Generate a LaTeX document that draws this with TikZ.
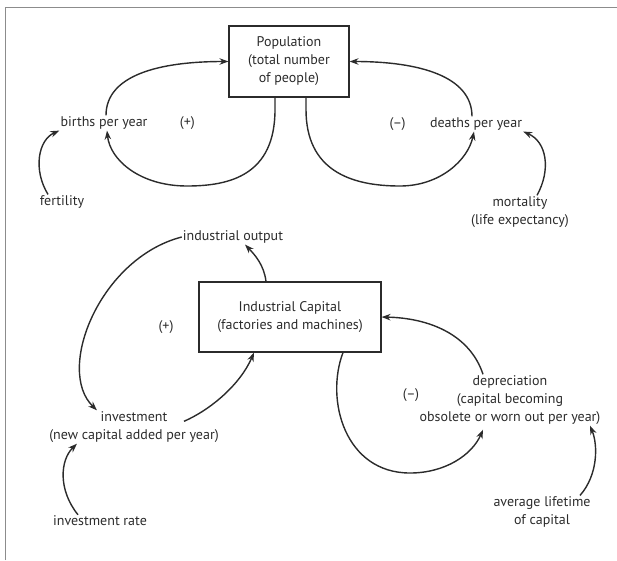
\documentclass[tikz,border=0pt]{standalone}
\usepackage{fontspec}
\setmainfont{PT Sans}
\usepackage{xcolor}
\usetikzlibrary{positioning, arrows.meta}

\definecolor{ink}{HTML}{2B2B2B}
\definecolor{rim}{HTML}{8C8C8C}

\begin{document}
\begin{tikzpicture}[x=1pt, y=-1pt, >={Stealth[length=9pt, width=6.5pt]},
      every node/.style={font=\fontsize{14}{18}\selectfont, text=ink},
      stock/.style={draw=ink, line width=1.1pt, align=center, inner sep=2pt},
      var/.style={align=center, inner sep=1pt},
      sign/.style={inner sep=1pt},
      flow/.style={->, draw=ink, line width=1.4pt}]

    \useasboundingbox (0,0) rectangle (617,560);
    \draw[rim, line width=0.8pt] (5,560) -- (5,7) -- (617,7);

    % population and its two loops
    \node[stock, minimum width=120pt, minimum height=71pt] (pop) at (289,61.5) {Population\\(total number\\of people)};
    \node[var] (births) at (104,123) {births per year};
    \node[var] (deaths) at (476,124) {deaths per year};
    \node[sign, right=30pt of births] (plusA) {(+)};
    \node[sign, left=22pt of deaths] (minusA) {(–)};
    \node[var] (fertility) at (62,202) {fertility};
    \node[var] (mortality) at (520,212) {mortality\\(life expectancy)};

    \draw[flow] ([xshift=2pt]births.north) .. controls +(0,-40) and +(-70,0) .. (pop.west);
    \draw[flow] ([xshift=-4pt]deaths.north) .. controls +(0,-40) and +(70,0) .. (pop.east);
    \draw[flow] ([xshift=-14pt]pop.south) -- ++(0,12) .. controls (275,175) and (230,186) .. (187,186)
      .. controls (140,186) and (110,160) .. ([xshift=3pt]births.south);
    \draw[flow] ([xshift=17pt]pop.south) -- ++(0,12) .. controls (306,170) and (350,186) .. (400,186)
      .. controls (440,186) and (468,160) .. ([xshift=-2pt]deaths.south);
    \draw[flow] ([xshift=-14pt]fertility.north) .. controls (33,170) and (38,140) .. (births.south west);
    \draw[flow] ([xshift=17pt]mortality.north) .. controls (551,170) and (547,142) .. (deaths.south east);

    % industrial capital and its two loops
    \node[stock, minimum width=182pt, minimum height=70pt] (cap) at (290,317) {Industrial Capital\\(factories and machines)};
    \node[var] (output) at (233,237) {industrial output};
    \node[var] (invest) at (134,427) {investment\\(new capital added per year)};
    \node[var] (invrate) at (100,521) {investment rate};
    \node[var] (deprec) at (510,400) {depreciation\\(capital becoming\\obsolete or worn out per year)};
    \node[var] (lifetime) at (542,512) {average lifetime\\of capital};
    \node[sign] (plusB) at (166,327) {(+)};
    \node[sign] (minusB) at (411,395) {(–)};

    \draw[flow] (output.west) .. controls (100,258) and (55,370) .. ([xshift=-37pt]invest.north);
    \draw[flow] ([xshift=-24pt]cap.north) .. controls (264,265) and (255,255) .. ([xshift=12pt]output.south);
    \draw[flow] ([xshift=50pt, yshift=-11pt]invest.north) .. controls (210,410) and (240,385) .. ([xshift=-36pt]cap.south);
    \draw[flow] ([xshift=-22pt]invrate.north) .. controls (58,490) and (60,460) .. ([xshift=-57pt]invest.south);
    \draw[flow] ([xshift=-27pt]deprec.north) .. controls (470,335) and (430,318) .. (cap.east);
    \draw[flow] ([xshift=53pt]cap.south) .. controls (325,400) and (345,473) .. (410,473)
      .. controls (445,473) and (472,455) .. ([xshift=-27pt, yshift=-4pt]deprec.south);
    \draw[flow] ([xshift=38pt]lifetime.north) .. controls (598,475) and (598,445) .. ([xshift=80pt]deprec.south);
  \end{tikzpicture}
\end{document}
